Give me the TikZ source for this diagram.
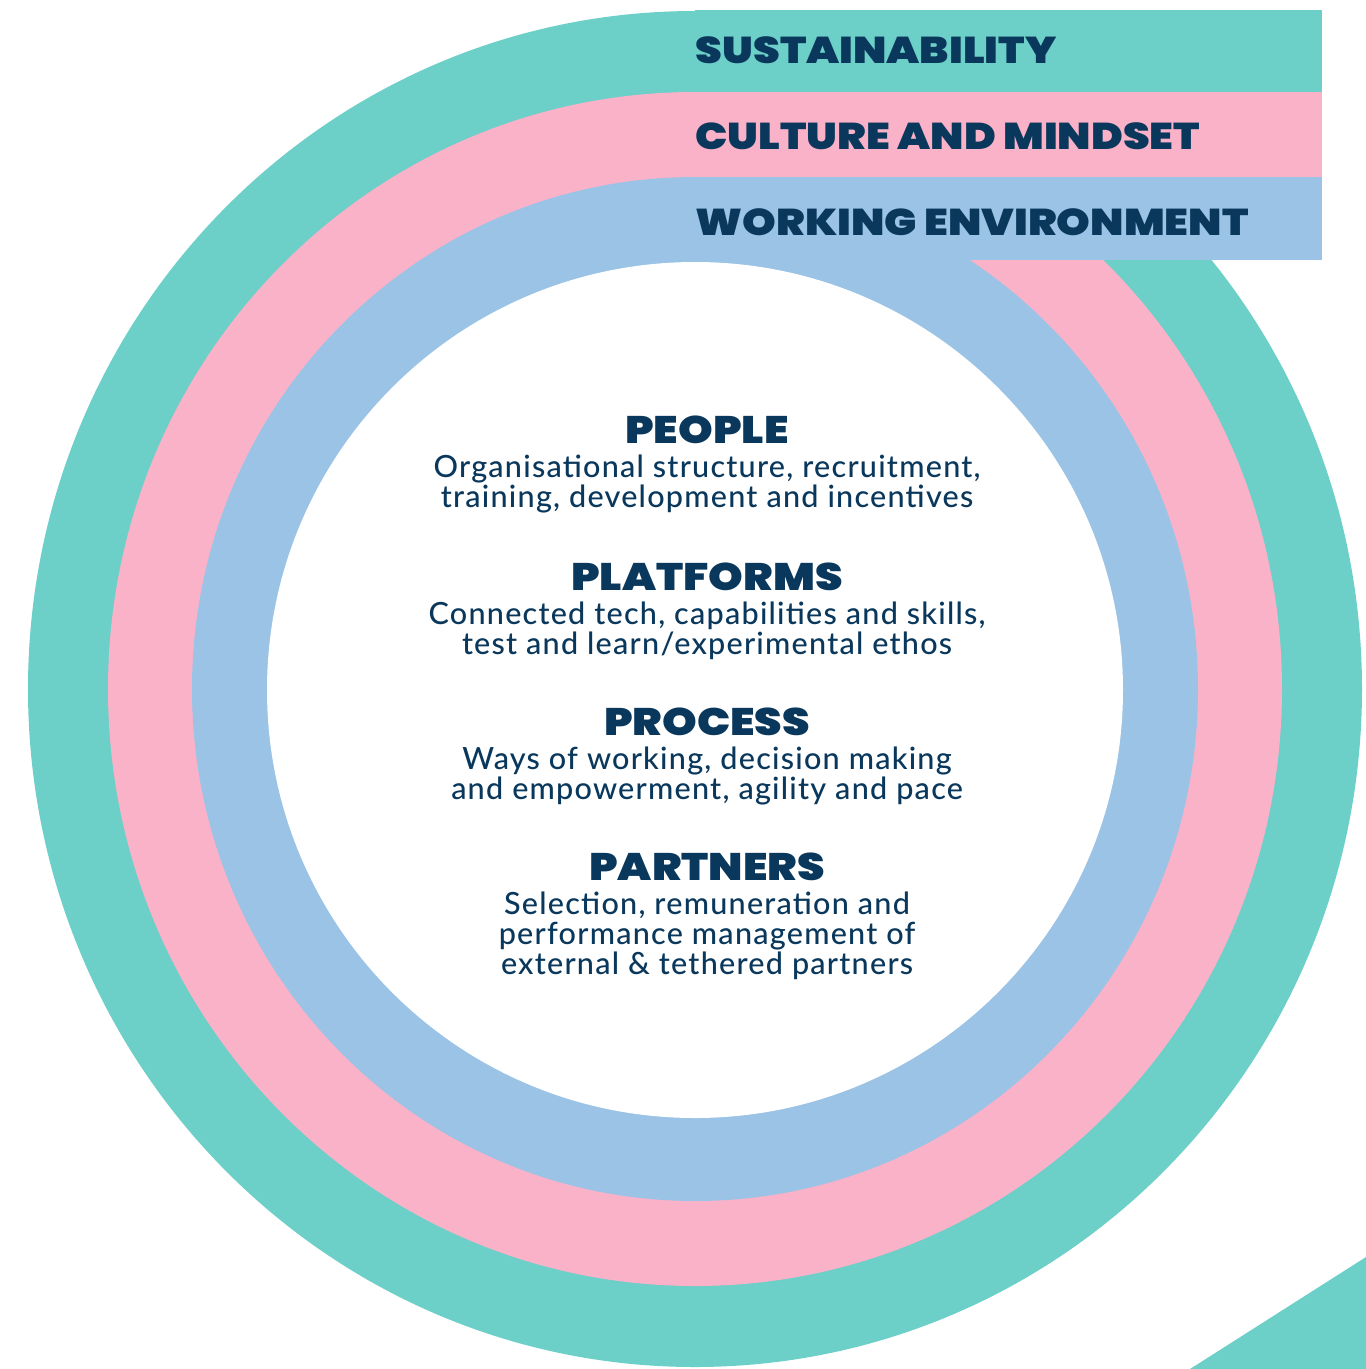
\documentclass[tikz,border=0pt]{standalone}
\usepackage{fontspec}
\setmainfont{Lato Medium}[LetterSpace=4]
\newfontfamily\headfont{Poppins Black}[FakeStretch=1.15]
\usetikzlibrary{positioning}
\definecolor{ringteal}{RGB}{108,207,200}
\definecolor{ringpink}{RGB}{250,178,200}
\definecolor{ringblue}{RGB}{154,195,230}
\definecolor{navy}{RGB}{10,56,92}
\tikzstyle{band} = [anchor=west, inner sep=0pt, text=navy, font=\headfont\fontsize{10.6}{13}\selectfont]
\tikzstyle{head} = [inner sep=0pt, text=navy, font=\headfont\fontsize{10.9}{12}\selectfont]
\tikzstyle{body} = [inner sep=0pt, align=center, text=navy, font=\fontsize{8.7}{8.5}\selectfont]

\begin{document}
\begin{tikzpicture}[x=0.01cm, y=-0.01cm]
\useasboundingbox (0,0) rectangle (1366,1369);
% Rings
\fill[ringteal] (695,689) ellipse [x radius=667, y radius=678];
\fill[ringpink] (695,689) ellipse [x radius=587, y radius=597];
\fill[ringblue] (695,689) ellipse [x radius=503, y radius=512];
\fill[white] (695,690) ellipse [x radius=428, y radius=428];
\fill[ringteal] (1190,1369) -- (1366,1257) -- (1366,1369) -- cycle;

% Bands at the top
\fill[ringteal] (695,10) rectangle (1322,92);
\fill[ringpink] (695,92) rectangle (1322,177);
\fill[ringblue] (695,177) rectangle (1322,260);
\node[band] (sustain) at (695,50) {SUSTAINABILITY};
\node[band] (culture) at (695,136) {CULTURE AND MINDSET};
\node[band] (working) at (695,222) {WORKING ENVIRONMENT};

% Inner circle
\node[head] (people) at (707,430) {PEOPLE};
\node[body, below=0.1cm of people] (peopletxt) {Organisational structure, recruitment,\\training, development and incentives};

\node[head] (platforms) at (707,577) {PLATFORMS};
\node[body, below=0.1cm of platforms] (platformstxt) {Connected tech, capabilities and skills,\\test and learn/experimental ethos};

\node[head] (process) at (707,722) {PROCESS};
\node[body, below=0.1cm of process] (processtxt) {Ways of working, decision making\\and empowerment, agility and pace};

\node[head] (partners) at (707,867) {PARTNERS};
\node[body, below=0.1cm of partners] (partnerstxt) {Selection, remuneration and\\performance management of\\external \& tethered partners};
\end{tikzpicture}
\end{document}
